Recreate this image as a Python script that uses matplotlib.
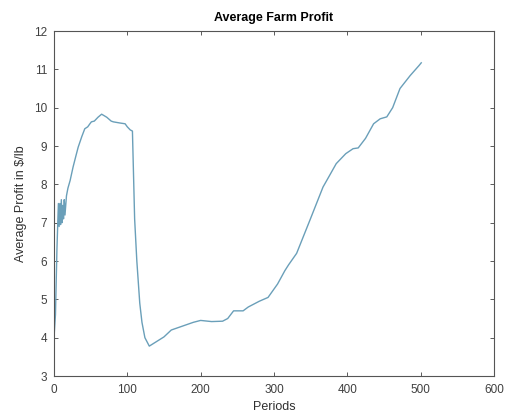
import numpy as np
import matplotlib
matplotlib.use("Agg")
import matplotlib.pyplot as plt

# average farm profit per period, sampled from the simulation output
periods = [0, 2, 4, 6, 7, 8, 9, 10, 11, 12, 13, 14, 15, 17, 19, 22, 26, 30, 33,
           38, 42, 46, 49, 51, 55, 60, 65, 72, 78, 81, 90, 97, 100, 104, 107,
           110, 113, 117, 120, 124, 130, 140, 150, 160, 175, 190, 200, 215,
           230, 237, 245, 258, 265, 280, 292, 305, 315, 320, 331, 349, 367,
           375, 385, 398, 408, 415, 425, 436, 445, 454, 462, 472, 486, 498, 501]
profit = [4.0, 4.6, 6.3, 7.5, 6.9, 7.5, 6.95, 7.6, 7.0, 7.45, 7.1, 7.6, 7.2,
          7.7, 7.9, 8.1, 8.45, 8.75, 8.97, 9.25, 9.45, 9.5, 9.58, 9.63, 9.65,
          9.75, 9.83, 9.75, 9.65, 9.63, 9.6, 9.58, 9.5, 9.42, 9.39, 7.1, 6.0,
          4.9, 4.4, 4.0, 3.78, 3.9, 4.02, 4.2, 4.3, 4.4, 4.45, 4.42, 4.43, 4.5,
          4.7, 4.7, 4.8, 4.95, 5.05, 5.4, 5.75, 5.9, 6.2, 7.06, 7.93, 8.2,
          8.54, 8.8, 8.93, 8.95, 9.2, 9.58, 9.71, 9.76, 10.0, 10.5, 10.84,
          11.1, 11.17]

plt.rcParams['font.family'] = ['Liberation Sans', 'DejaVu Sans']

fig = plt.figure(figsize=(5.07, 4.19), dpi=100)
ax = fig.add_axes([0.1065, 0.1026, 0.8675, 0.8234])

ax.plot(periods, profit, color='#6a9fb9', linewidth=1.0)

ax.set_xlim(0, 600)
ax.set_ylim(3, 12)
ax.set_xticks(np.arange(0, 601, 100))
ax.set_yticks(np.arange(3, 13, 1))
ax.tick_params(direction='in', top=True, right=True, labelsize=8.5,
               colors='#404040', length=3, width=0.6)
ax.tick_params(axis='x', pad=6)
ax.tick_params(axis='y', pad=5)
for s in ax.spines.values():
    s.set_color('#555555')
    s.set_linewidth(0.8)

ax.set_xlabel('Periods', fontsize=9, color='#303030', labelpad=3)
ax.set_ylabel('Average Profit in $/lb', fontsize=9, color='#303030', labelpad=5)
ax.set_title('Average Farm Profit', fontsize=9, fontweight='bold', pad=7)

fig.savefig('out.png', dpi=100)
